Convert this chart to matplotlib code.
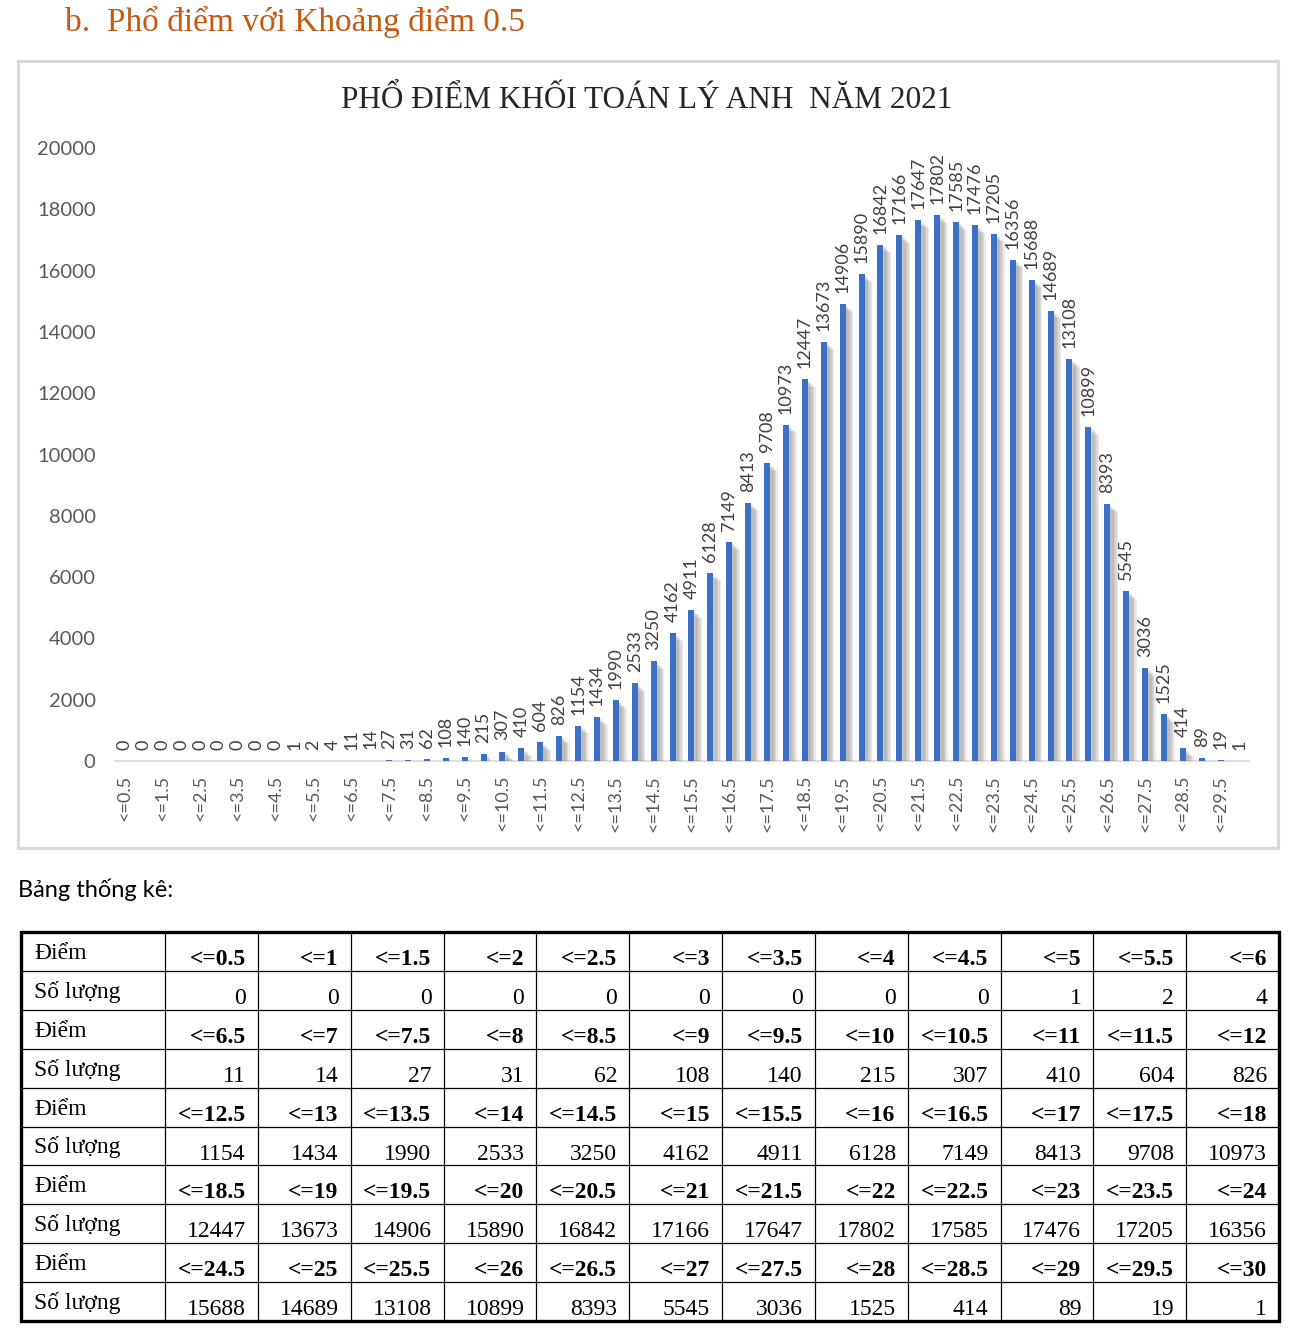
#pho diem khoi A01 (Toan Ly Anh) 2021 - bar chart + bang thong ke
import numpy as np
import matplotlib
matplotlib.use('Agg')
import matplotlib.pyplot as plt
import matplotlib.patheffects as pe
from matplotlib.patches import Rectangle

diem = ["<=0.5", "<=1", "<=1.5", "<=2", "<=2.5", "<=3", "<=3.5", "<=4", "<=4.5", "<=5", "<=5.5", "<=6",
        "<=6.5", "<=7", "<=7.5", "<=8", "<=8.5", "<=9", "<=9.5", "<=10", "<=10.5", "<=11", "<=11.5", "<=12",
        "<=12.5", "<=13", "<=13.5", "<=14", "<=14.5", "<=15", "<=15.5", "<=16", "<=16.5", "<=17", "<=17.5", "<=18",
        "<=18.5", "<=19", "<=19.5", "<=20", "<=20.5", "<=21", "<=21.5", "<=22", "<=22.5", "<=23", "<=23.5", "<=24",
        "<=24.5", "<=25", "<=25.5", "<=26", "<=26.5", "<=27", "<=27.5", "<=28", "<=28.5", "<=29", "<=29.5", "<=30"]
so_luong = [0, 0, 0, 0, 0, 0, 0, 0, 0, 1, 2, 4,
            11, 14, 27, 31, 62, 108, 140, 215, 307, 410, 604, 826,
            1154, 1434, 1990, 2533, 3250, 4162, 4911, 6128, 7149, 8413, 9708, 10973,
            12447, 13673, 14906, 15890, 16842, 17166, 17647, 17802, 17585, 17476, 17205, 16356,
            15688, 14689, 13108, 10899, 8393, 5545, 3036, 1525, 414, 89, 19, 1]
y_ticks = [0, 2000, 4000, 6000, 8000, 10000, 12000, 14000, 16000, 18000, 20000]

heading = "b.  Phổ điểm với Khoảng điểm 0.5"
chart_title = "PHỔ ĐIỂM KHỐI TOÁN LÝ ANH  NĂM 2021"
table_caption = "Bảng thống kê:"
row_labels = ["Điểm", "Số lượng"]
per_row = 12

serif = "Liberation Serif"
sans = "Lato"
W, H = 1300, 1328

fig = plt.figure(figsize=(W / 100, H / 100), dpi=100)

# overlay in pixel coords for heading, chart frame and table
bg = fig.add_axes([0, 0, 1, 1])
bg.set_xlim(0, W)
bg.set_ylim(H, 0)
bg.axis('off')

bg.text(65, 22, heading, fontsize=24, family=serif, color='#C55A11', va='center', ha='left')
bg.add_patch(Rectangle((18, 61), 1260, 787, fill=False, edgecolor='#D9D9D9', lw=2.2))
bg.text(647, 100, chart_title, fontsize=22.5, family=serif, color='#262626', ha='center', va='center')
bg.text(18, 890, table_caption, fontsize=17, family=sans, color='black', ha='left', va='center')

# chart
ax = fig.add_axes([115 / W, 567 / H, 1134 / W, 613 / H])
x = np.arange(len(so_luong))
shadow = [pe.SimplePatchShadow(offset=(d, -d), shadow_rgbFace='#808080', alpha=0.16)
          for d in (1.5, 2.5, 3.5, 4.5, 5.5)]
bars = ax.bar(x, so_luong, width=0.32, color='#3A70C6', zorder=3)
for b in bars:
    b.set_path_effects(shadow + [pe.Normal()])
for xi, v in zip(x, so_luong):
    ax.annotate(str(v), (xi, v), xytext=(0, 8), textcoords='offset points', rotation=90,
                ha='center', va='bottom', fontsize=13, family=sans, color='#404040')

ax.set_xlim(-0.5, len(so_luong) - 0.5)
ax.set_ylim(0, 20000)
ax.set_yticks(y_ticks)
ax.set_yticklabels([str(t) for t in y_ticks], fontsize=14.5, family=sans, color='#595959')
ax.set_xticks(x[::2])
ax.set_xticklabels(diem[::2], rotation=90, fontsize=13, family=sans, color='#595959')
ax.tick_params(axis='both', length=0)
ax.tick_params(axis='y', pad=14)
ax.tick_params(axis='x', pad=10)
for s in ['top', 'right', 'left']:
    ax.spines[s].set_visible(False)
ax.spines['bottom'].set_color('#D9D9D9')
ax.spines['bottom'].set_linewidth(1.2)
ax.set_facecolor('none')

# table
tx0, tx1, tc = 21, 1279, 165
ty0, rh = 932, 38.9
cw = (tx1 - tc) / per_row
n_groups = len(diem) // per_row
n_rows = n_groups * 2
ty1 = ty0 + rh * n_rows

for r in range(1, n_rows):
    bg.plot([tx0, tx1], [ty0 + r * rh] * 2, color='black', lw=0.9)
for c in range(per_row):
    xc = tc + c * cw
    bg.plot([xc, xc], [ty0, ty1], color='black', lw=0.9)
bg.add_patch(Rectangle((tx0, ty0), tx1 - tx0, ty1 - ty0, fill=False, edgecolor='black', lw=2.4))

for g in range(n_groups):
    for k in range(2):
        top = ty0 + (2 * g + k) * rh
        bg.text(34, top + 27, row_labels[k], fontsize=17, family=serif, ha='left', va='baseline')
        for c in range(per_row):
            idx = g * per_row + c
            txt = diem[idx] if k == 0 else str(so_luong[idx])
            bg.text(tc + (c + 1) * cw - 12, top + 33, txt, fontsize=17, family=serif,
                    fontweight='bold' if k == 0 else 'normal', ha='right', va='baseline')

fig.savefig('out.png', dpi=100)
